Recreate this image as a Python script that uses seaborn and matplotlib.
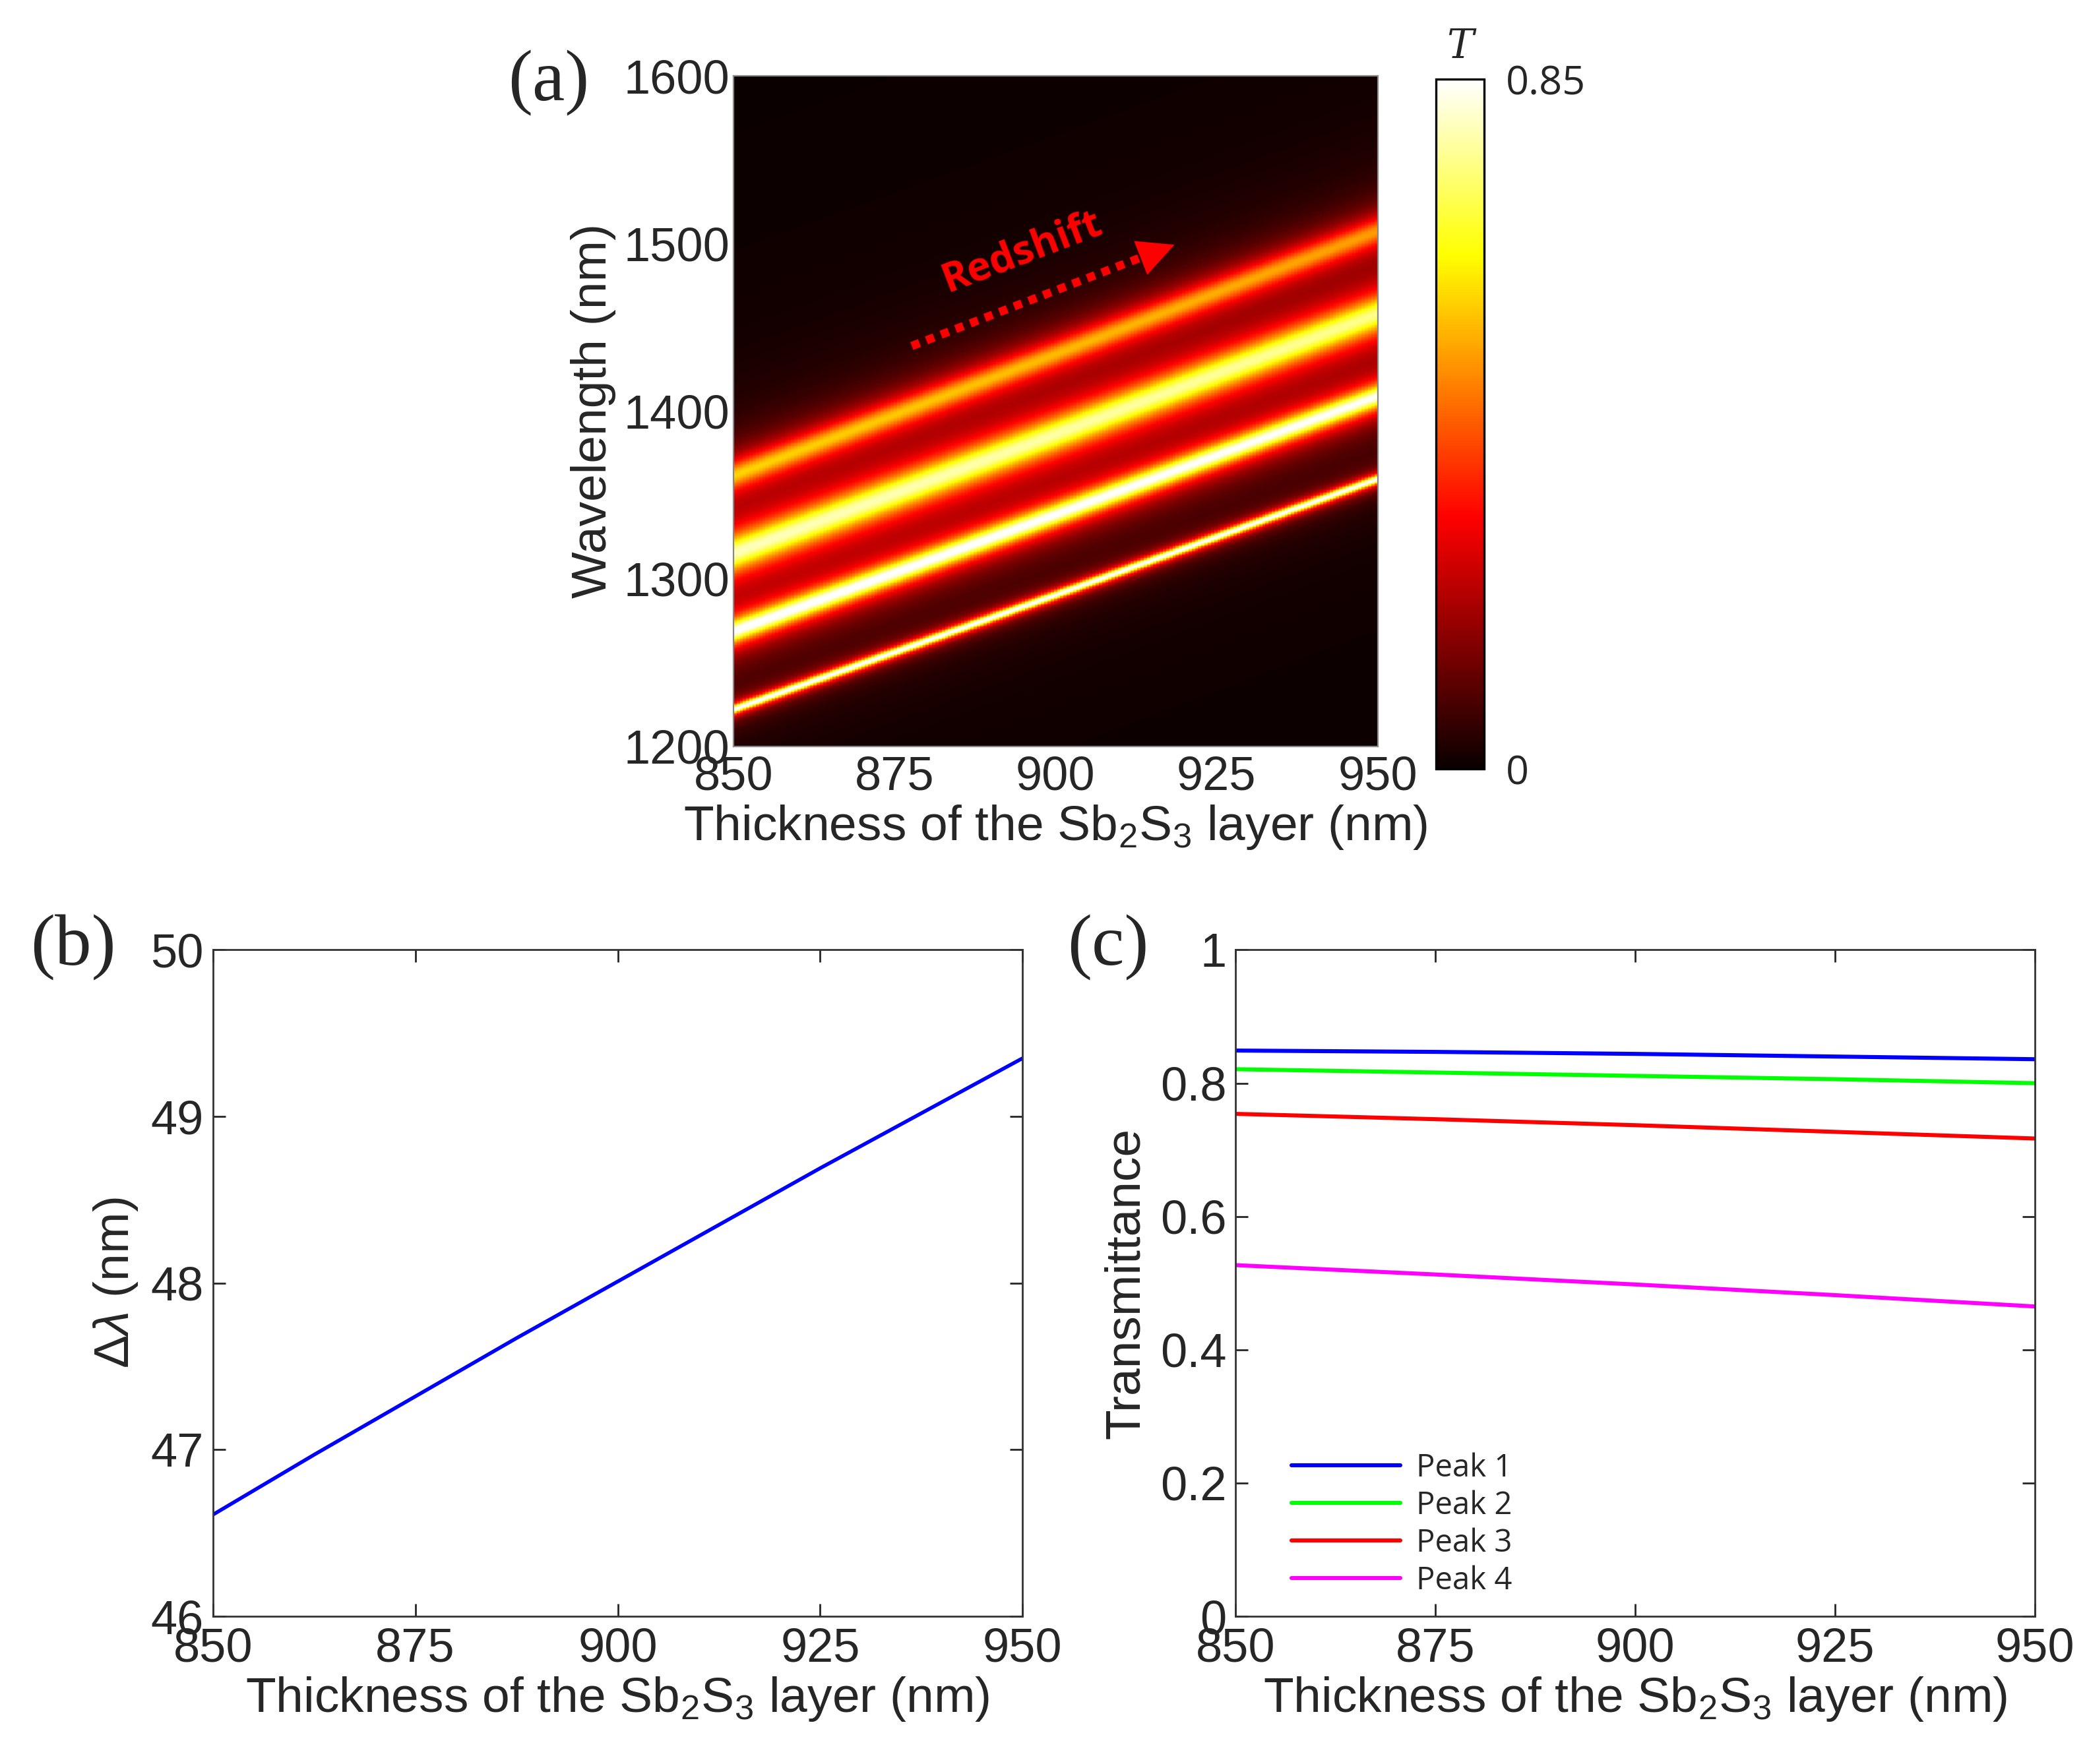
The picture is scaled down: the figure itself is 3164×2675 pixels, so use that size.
import numpy as np
import pandas as pd
import matplotlib
matplotlib.use("Agg")
import matplotlib.pyplot as plt
import seaborn as sns

# ---- data ----
thickness = [850, 875, 900, 925, 950]  # nm, Sb2S3 layer

# resonance centres (nm) of the four transmission peaks in panel (a)
peak1_center = [1222.0, 1256.0, 1290.0, 1324.5, 1359.0]
peak2_center = [1268.6, 1303.3, 1338.0, 1373.2, 1408.4]
peak3_center = [1315.2, 1350.7, 1386.0, 1421.9, 1457.7]
peak4_center = [1361.8, 1398.0, 1434.0, 1470.6, 1507.1]
peak_fwhm = [5.5, 15.0, 24.0, 18.0]  # nm, estimated band widths

# panel (b): spacing between neighbouring peaks
dl_thickness = [850, 862.5, 875, 887.5, 900, 912.5, 925, 937.5, 950]
delta_lambda = [46.61, 46.97, 47.32, 47.67, 48.01, 48.35, 48.69, 49.02, 49.35]

# panel (c): peak transmittance
peak1_T = [0.849, 0.847, 0.844, 0.840, 0.836]
peak2_T = [0.821, 0.816, 0.811, 0.806, 0.800]
peak3_T = [0.754, 0.746, 0.737, 0.727, 0.717]
peak4_T = [0.527, 0.513, 0.498, 0.482, 0.465]
peak_names = ["Peak 1", "Peak 2", "Peak 3", "Peak 4"]
peak_colors = ["#0000ff", "#00ff00", "#ff0000", "#ff00ff"]

x_ticks = [850, 875, 900, 925, 950]
wl_ticks = [1200, 1300, 1400, 1500, 1600]

# ---- style ----
sns.set_style("ticks")
plt.rcParams["font.family"] = ["Liberation Sans", "DejaVu Sans"]
plt.rcParams["mathtext.fontset"] = "custom"
plt.rcParams["mathtext.rm"] = "Liberation Sans"
plt.rcParams["mathtext.it"] = "Liberation Sans:italic"
plt.rcParams["axes.linewidth"] = 1.0

TICK_FS = 26
LABEL_FS = 27
XLABEL = r"Thickness of the Sb$_2$S$_3$ layer (nm)"

fig = plt.figure(figsize=(15.82, 13.375), dpi=200)

# ---- (a) transmittance map ----
ax_a = fig.add_axes([0.3514, 0.577, 0.3087, 0.380])
cax = fig.add_axes([0.688, 0.564, 0.023, 0.391])

nx, ny = 201, 801
t_grid = np.linspace(850, 950, nx)
wl_grid = np.linspace(1600, 1200, ny)  # top row = longest wavelength
centers = [peak1_center, peak2_center, peak3_center, peak4_center]
heights = [peak1_T, peak2_T, peak3_T, peak4_T]
field = np.zeros((ny, nx))
for c, h, w in zip(centers, heights, peak_fwhm):
    c_t = np.interp(t_grid, thickness, c)
    h_t = np.interp(t_grid, thickness, h)
    field += h_t[None, :] / (1 + ((wl_grid[:, None] - c_t[None, :]) / (w / 2)) ** 2)
field = np.clip(field, 0, 0.85)
tmap = pd.DataFrame(field, index=np.round(wl_grid, 1), columns=np.round(t_grid, 2))

sns.heatmap(tmap, ax=ax_a, cmap="hot", vmin=0, vmax=0.85, cbar_ax=cax,
            xticklabels=False, yticklabels=False, rasterized=True)
ax_a.set_xticks([(t - 850) / 100 * nx for t in x_ticks])
ax_a.set_xticklabels([str(t) for t in x_ticks])
ax_a.set_yticks([(1600 - v) / 400 * ny for v in wl_ticks])
ax_a.set_yticklabels([str(v) for v in wl_ticks], rotation=0)
ax_a.tick_params(axis="both", length=0, labelsize=TICK_FS)
ax_a.tick_params(axis="x", pad=5)
ax_a.tick_params(axis="y", pad=2)
for s in ax_a.spines.values():
    s.set_visible(True)
    s.set_color("#888888")
    s.set_linewidth(0.8)
ax_a.set_xlabel(XLABEL, fontsize=LABEL_FS, labelpad=2)
ax_a.set_ylabel("Wavelength (nm)", fontsize=LABEL_FS, labelpad=4)

# redshift arrow
ax_a.plot([0.277, 0.665], [0.597, 0.741], transform=ax_a.transAxes,
          color="red", lw=4.5, ls=(0, (1, 0.9)), solid_capstyle="butt")
ax_a.annotate("", xy=(0.690, 0.750), xytext=(0.650, 0.735),
              xycoords="axes fraction",
              arrowprops=dict(arrowstyle="-|>,head_length=0.9,head_width=0.45",
                              color="red", lw=0, mutation_scale=22))
ax_a.text(0.448, 0.737, "Redshift", transform=ax_a.transAxes, rotation=21,
          color="red", fontsize=22, fontweight="bold", family="Open Sans",
          ha="center", va="center")

cbar = ax_a.collections[0].colorbar
cbar.set_ticks([0, 0.85])
cbar.set_ticklabels(["0", "0.85"])
cbar.outline.set_visible(True)
cbar.outline.set_edgecolor("black")
cbar.outline.set_linewidth(1.2)
cax.tick_params(length=0, pad=12)
for lab in cax.get_yticklabels():
    lab.set_fontfamily("Open Sans")
    lab.set_fontsize(22)
fig.text(0.6996, 0.9736, "T", fontsize=22, style="italic",
         family=["DejaVu Serif"], ha="center", va="center")

# ---- (b) peak spacing ----
ax_b = fig.add_axes([0.102, 0.0837, 0.388, 0.3778])
df_b = pd.DataFrame({"thickness": dl_thickness, "dl": delta_lambda})
sns.lineplot(data=df_b, x="thickness", y="dl", ax=ax_b, color="#0000ff", lw=2.0)
ax_b.set_xlim(850, 950)
ax_b.set_ylim(46, 50)
ax_b.set_xticks(x_ticks)
ax_b.set_yticks([46, 47, 48, 49, 50])
ax_b.set_xlabel(XLABEL, fontsize=LABEL_FS, labelpad=2)
ax_b.set_ylabel(r"$\Delta\mathit{\lambda}$ (nm)", fontsize=LABEL_FS, labelpad=6)

# ---- (c) peak transmittance ----
ax_c = fig.add_axes([0.592, 0.0837, 0.383, 0.3778])
df_c = pd.DataFrame({
    "thickness": thickness * 4,
    "T": peak1_T + peak2_T + peak3_T + peak4_T,
    "peak": [n for n in peak_names for _ in thickness],
})
sns.lineplot(data=df_c, x="thickness", y="T", hue="peak", hue_order=peak_names,
             palette=dict(zip(peak_names, peak_colors)), ax=ax_c, lw=2.2)
ax_c.set_xlim(850, 950)
ax_c.set_ylim(0, 1)
ax_c.set_xticks(x_ticks)
ax_c.set_yticks([0, 0.2, 0.4, 0.6, 0.8, 1])
ax_c.set_yticklabels(["0", "0.2", "0.4", "0.6", "0.8", "1"])
ax_c.set_xlabel(XLABEL, fontsize=LABEL_FS, labelpad=2)
ax_c.set_ylabel("Transmittance", fontsize=LABEL_FS, labelpad=6)
handles, labels = ax_c.get_legend_handles_labels()
ax_c.legend(handles, labels, loc="lower left", bbox_to_anchor=(0.035, -0.012),
            frameon=False, handlelength=3.5, handletextpad=0.5, labelspacing=0.2,
            prop={"family": "Open Sans", "size": 17})

for ax in (ax_b, ax_c):
    ax.tick_params(direction="in", top=True, right=True, length=7, width=1,
                   labelsize=TICK_FS)
    ax.tick_params(axis="x", pad=6)
    ax.tick_params(axis="y", pad=5)
    for s in ax.spines.values():
        s.set_visible(True)
        s.set_color("#333333")

# panel labels
for txt, x, y in [("(a)", 0.263, 0.953), ("(b)", 0.035, 0.463), ("(c)", 0.531, 0.463)]:
    fig.text(x, y, txt, fontsize=40, family="Liberation Serif", ha="center", va="center")

fig.savefig("out.png", dpi=200)
